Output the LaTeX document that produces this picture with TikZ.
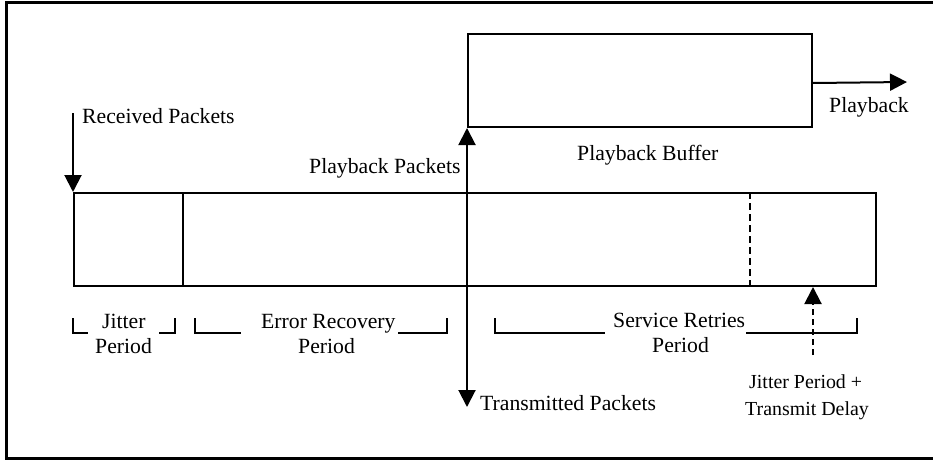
\documentclass[tikz,border=0pt]{standalone}
\usepackage{fontspec}
\setmainfont{Liberation Serif}
\usetikzlibrary{arrows.meta}
\begin{document}
\begin{tikzpicture}[x=1pt,y=-1pt,
  boxst/.style={draw, line width=2pt, inner sep=0pt, anchor=north west},
  lbl/.style={inner sep=0pt, anchor=base west, font=\fontsize{21.7}{26}\selectfont},
  lbls/.style={inner sep=0pt, anchor=base west, font=\fontsize{19.9}{24}\selectfont},
  arr/.style={line width=2pt, -{Triangle[length=17pt,width=17pt]}},
  darr/.style={line width=2pt, {Triangle[length=17pt,width=17pt]}-{Triangle[length=17pt,width=17pt]}},
  brk/.style={line width=2pt},
  framest/.style={line width=3pt}]
\useasboundingbox (0,0) rectangle (933,460);
% outer frame (open to the right)
\draw[framest] (945,3) -- (6,3) -- (6,458) -- (945,458);
% boxes
\node[boxst, minimum width=802pt, minimum height=93pt] (main) at (73,192) {};
\node[boxst, minimum width=344pt, minimum height=93pt] (buf) at (467,33) {};
% dividers in main box
\draw[line width=2pt] ([xshift=110pt]main.north west) -- ([xshift=110pt]main.south west);
\draw[line width=2pt, dash pattern=on 7pt off 4pt] ([xshift=677pt]main.north west) -- ([xshift=677pt]main.south west);
% coordinates
\coordinate (rtop) at (73,113);
\coordinate (ttip) at (467,407);
\coordinate (pend) at (907,82);
\coordinate (jdb) at (813,355);
% connectors
\draw[arr] (rtop) -- (main.north west);
\draw[darr] (ttip) -- (buf.south west);
\draw[arr] ([yshift=-2.5pt]buf.east) -- (pend);
\draw[arr, dash pattern=on 6pt off 4pt] (jdb) -- (jdb |- main.south);
% labels
\node[lbl] (lrec) at (82,123) {Received Packets};
\node[lbl] (lpp) at (309,173) {Playback Packets};
\node[lbl] (lpb) at (577,160) {Playback Buffer};
\node[lbl] (lplay) at (829,112) {Playback};
\node[lbl] (ltx) at (480,410) {Transmitted Packets};
\node[lbl] (lj1) at (102,328) {Jitter};
\node[lbl] (lj2) at (95,353) {Period};
\node[lbl] (le1) at (261,328) {Error Recovery};
\node[lbl] (le2) at (298,353) {Period};
\node[lbl] (ls1) at (613,327) {Service Retries};
\node[lbl] (ls2) at (652,352) {Period};
\node[lbls] (ld1) at (749,388) {Jitter Period +};
\node[lbls] (ld2) at (745,415) {Transmit Delay};
% brackets
\draw[brk] (73,318) -- (73,333) -- (88,333);
\draw[brk] (159,333) -- (175,333) -- (175,318);
\draw[brk] (195,318) -- (195,333) -- (241,333);
\draw[brk] (398,333) -- (447,333) -- (447,318);
\draw[brk] (495,318) -- (495,333) -- (605,333);
\draw[brk] (746,333) -- (857,333) -- (857,318);
\end{tikzpicture}
\end{document}
